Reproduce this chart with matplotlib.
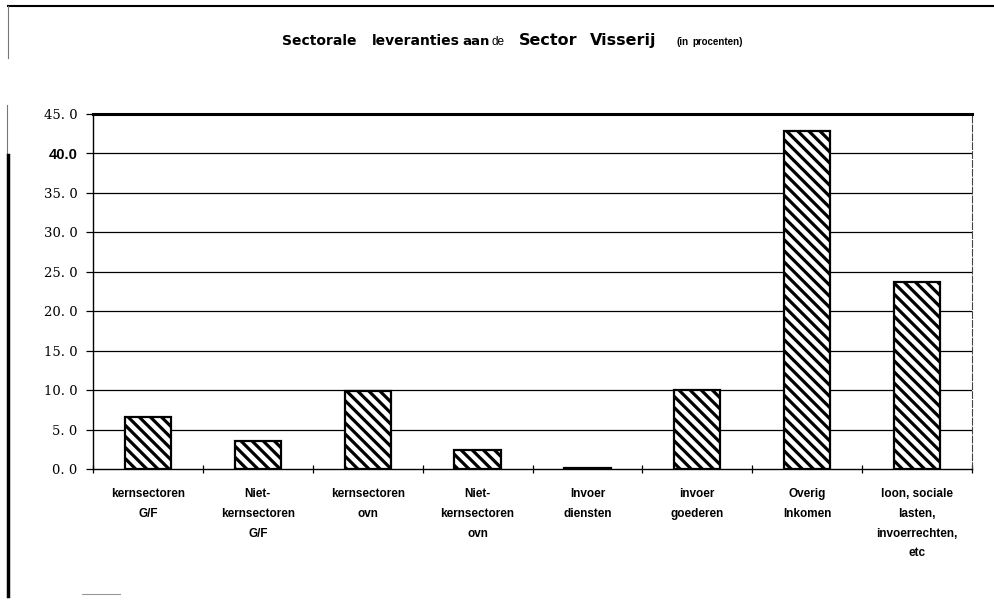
import matplotlib
matplotlib.use('Agg')
import matplotlib.pyplot as plt
import numpy as np
from matplotlib.lines import Line2D

categories = ['kernsectoren\nG/F', 'Niet-\nkernsectoren\nG/F', 'kernsectoren\novn',
              'Niet-\nkernsectoren\novn', 'Invoer\ndiensten', 'invoer\ngoederen',
              'Overig\nInkomen', 'loon, sociale\nlasten,\ninvoerrechten,\netc']
values = [6.6, 3.6, 9.9, 2.4, 0.1, 10.0, 42.8, 23.7]
ytick_values = [0, 5, 10, 15, 20, 25, 30, 35, 40, 45]
ytick_labels = ['0. 0', '5. 0', '10. 0', '15. 0', '20. 0', '25. 0', '30. 0', '35. 0', '40.0', '45. 0']

sans = ['Liberation Sans', 'DejaVu Sans']
plt.rcParams['hatch.linewidth'] = 2.3

fig = plt.figure(figsize=(9.95, 6.01), dpi=100)
ax = fig.add_axes([93 / 995, 1 - 469 / 601, 879 / 995, 355 / 601])

x = np.arange(len(values))
ax.bar(x, values, width=0.42, color='white', edgecolor='black', linewidth=1.6,
       hatch='\\\\\\', zorder=3)

ax.set_xlim(-0.5, len(values) - 0.5)
ax.set_ylim(0, 45)

# gridlines
for v in ytick_values[1:-1]:
    ax.axhline(v, color='black', lw=0.9, zorder=1)

ax.set_yticks(ytick_values)
ax.set_yticklabels(ytick_labels, family='DejaVu Serif', fontsize=9.5)
for lbl in ax.get_yticklabels():
    if lbl.get_text() == '40.0':
        lbl.set_family('Liberation Sans')
        lbl.set_fontweight('bold')
        lbl.set_fontsize(10.5)
ax.tick_params(axis='y', direction='out', length=5, width=0.9, pad=6)

ax.set_xticks(x)
ax.set_xticklabels(categories, family=sans, fontweight='bold', fontsize=8.5,
                   linespacing=1.85, va='top')
ax.tick_params(axis='x', length=0, pad=14)
ax.set_xticks(np.arange(-0.5, len(values)), minor=True)
ax.tick_params(axis='x', which='minor', direction='inout', length=6, width=0.9)

for side in ['left', 'bottom']:
    ax.spines[side].set_linewidth(1.0)
ax.spines['top'].set_linewidth(2.2)
ax.spines['right'].set_linewidth(0.8)
ax.spines['right'].set_linestyle((0, (6, 2)))
ax.spines['right'].set_color('#444444')

# title words, mixed weight and size
wide = ['DejaVu Sans']
title_words = [
    ('Sectorale', 282, wide, dict(fontweight='bold', fontsize=10)),
    ('leveranties', 372, wide, dict(fontweight='bold', fontsize=10)),
    ('aan', 462, wide, dict(fontweight='bold', fontsize=9.5)),
    ('de', 492, sans, dict(fontsize=8.5)),
    ('Sector', 519, wide, dict(fontweight='bold', fontsize=11.5)),
    ('Visserij', 590, wide, dict(fontweight='bold', fontsize=11.5)),
    ('(in', 677, sans, dict(fontweight='bold', fontsize=7)),
    ('procenten)', 692, sans, dict(fontweight='bold', fontsize=7)),
]
for word, px, fam, kw in title_words:
    fig.text(px / 995, 1 - 45 / 601, word, va='baseline', ha='left', family=fam, **kw)

# frame lines around the chart
fig.add_artist(Line2D([8 / 995, 1], [1 - 6 / 601] * 2, color='black', lw=1.5))
fig.add_artist(Line2D([8 / 995] * 2, [1 - 6 / 601, 1 - 58 / 601], color='#777777', lw=0.8))
fig.add_artist(Line2D([7 / 995] * 2, [1 - 105 / 601, 1 - 155 / 601], color='#777777', lw=0.8))
fig.add_artist(Line2D([8 / 995] * 2, [1 - 155 / 601, 1 - 596 / 601], color='black', lw=2.5))
fig.add_artist(Line2D([82 / 995, 120 / 995], [1 - 594 / 601] * 2, color='#999999', lw=0.8))

fig.savefig('out.png', dpi=100)
